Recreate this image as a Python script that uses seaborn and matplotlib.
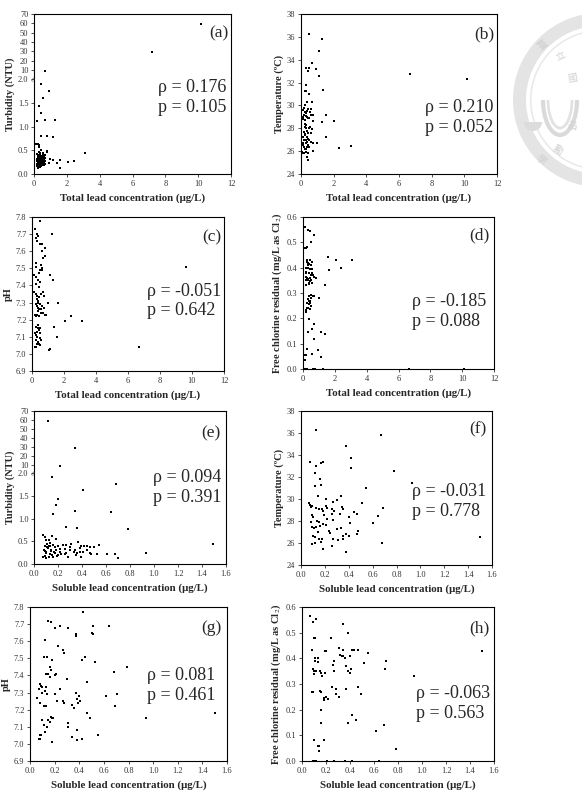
import numpy as np
import matplotlib
matplotlib.use("Agg")
import matplotlib.pyplot as plt
import seaborn as sns
from matplotlib.patches import Wedge, Arc

# ---- values ----
# (a) total lead (ug/L) vs turbidity (NTU)
a_pts = [(10.2, 59), (7.2, 29), (0.69, 9), (0.41, 1.90), (0.89, 1.76), (0.53, 1.61),
         (0.32, 1.43), (0.45, 1.28), (0.16, 1.11), (0.67, 1.15), (1.28, 1.14), (0.45, 0.80),
         (0.81, 0.80), (1.14, 0.78), (3.13, 0.45), (2.42, 0.27), (2.07, 0.26), (1.60, 0.13),
         (1.58, 0.30), (1.38, 0.23), (1.18, 0.29), (0.97, 0.32), (0.91, 0.23), (0.77, 0.49),
         (0.77, 0.46), (0.14, 0.63), (0.22, 0.63), (0.28, 0.62), (0.30, 0.58), (0.18, 0.42),
         (0.25, 0.41), (0.32, 0.40), (0.38, 0.42), (0.45, 0.38), (0.52, 0.44), (0.55, 0.37),
         (0.60, 0.36), (0.22, 0.35), (0.28, 0.33), (0.35, 0.32), (0.42, 0.30), (0.48, 0.29),
         (0.58, 0.31), (0.65, 0.28), (0.20, 0.28), (0.26, 0.26), (0.33, 0.25), (0.40, 0.24),
         (0.46, 0.22), (0.55, 0.21), (0.62, 0.24), (0.70, 0.22), (0.22, 0.20), (0.29, 0.19),
         (0.36, 0.18), (0.44, 0.17), (0.30, 0.15), (0.24, 0.13), (0.38, 0.14), (0.50, 0.19),
         (0.18, 0.22), (0.27, 0.30), (0.34, 0.37), (0.41, 0.34), (0.50, 0.33), (0.57, 0.27),
         (0.68, 0.40), (0.36, 0.45), (0.29, 0.47), (0.44, 0.50), (0.20, 0.16), (0.31, 0.21),
         (0.39, 0.27), (0.47, 0.25), (0.52, 0.23), (0.25, 0.38), (0.33, 0.29), (0.60, 0.19),
         (0.17, 0.32), (0.42, 0.20), (0.65, 0.33), (0.56, 0.41), (0.23, 0.24), (0.37, 0.21),
         (0.48, 0.36)]

# (b) total lead vs temperature (C)
b_pts = [(0.49, 36.27), (1.30, 35.78), (1.12, 34.79), (0.65, 33.70), (0.30, 33.27), (0.49, 33.27),
         (0.45, 32.98), (0.94, 33.18), (1.08, 32.60), (6.65, 32.78), (10.16, 32.28), (0.28, 31.78),
         (0.24, 31.29), (0.28, 31.23), (1.32, 31.38), (0.51, 31.03), (0.39, 30.33), (0.65, 30.33),
         (0.22, 30.00), (1.52, 29.19), (2.01, 28.64), (1.26, 28.52), (1.52, 27.27), (2.34, 26.30),
         (3.07, 26.48), (0.10, 29.63), (0.24, 29.45), (0.18, 29.16), (0.33, 29.31), (0.45, 29.69),
         (0.55, 29.45), (0.63, 29.16), (0.71, 29.16), (0.14, 29.01), (0.35, 29.01), (0.51, 28.87),
         (0.75, 28.66), (0.24, 28.14), (0.30, 27.99), (0.35, 27.79), (0.18, 27.70), (0.55, 28.14),
         (0.59, 27.62), (0.24, 27.41), (0.39, 27.27), (0.14, 27.21), (0.30, 26.97), (0.51, 26.97),
         (0.59, 26.83), (0.28, 26.68), (0.75, 26.68), (0.96, 26.68), (0.10, 26.68), (0.18, 26.39),
         (0.35, 26.39), (0.45, 26.54), (0.30, 26.16), (0.06, 25.95), (0.18, 25.87), (0.10, 25.81),
         (0.45, 25.81), (0.75, 26.01), (0.35, 25.52), (0.45, 25.25), (0.20, 29.80), (0.28, 29.10),
         (0.40, 28.90), (0.22, 28.40), (0.33, 28.30), (0.48, 28.00), (0.26, 27.50), (0.42, 27.60),
         (0.20, 27.00), (0.36, 26.80), (0.50, 26.40), (0.24, 26.20), (0.15, 28.80), (0.38, 29.50),
         (0.65, 27.90), (0.30, 25.90), (0.12, 26.50), (0.44, 27.10), (0.27, 28.70), (0.62, 29.70)]

# (c) total lead vs pH
c_pts = [(0.48, 7.777), (0.21, 7.73), (0.31, 7.70), (0.40, 7.69), (0.27, 7.68), (1.27, 7.70),
         (0.31, 7.66), (0.48, 7.64), (0.60, 7.64), (0.83, 7.62), (0.65, 7.60), (0.81, 7.57),
         (0.69, 7.56), (0.23, 7.53), (0.27, 7.51), (0.54, 7.52), (0.65, 7.50), (0.48, 7.49),
         (0.60, 7.49), (1.10, 7.46), (0.15, 7.46), (0.38, 7.43), (0.52, 7.42), (1.31, 7.43),
         (0.23, 7.41), (0.42, 7.39), (0.71, 7.36), (0.75, 7.34), (0.13, 7.36), (0.27, 7.35),
         (0.31, 7.34), (1.00, 7.30), (0.29, 7.32), (0.38, 7.30), (0.27, 7.29), (0.31, 7.28),
         (1.63, 7.30), (0.52, 7.29), (0.65, 7.28), (0.73, 7.27), (0.44, 7.26), (0.58, 7.26),
         (0.40, 7.25), (0.54, 7.24), (0.69, 7.24), (0.19, 7.23), (0.33, 7.23), (0.79, 7.23),
         (0.90, 7.23), (2.46, 7.22), (2.08, 7.19), (3.10, 7.19), (1.38, 7.16), (0.27, 7.16),
         (0.38, 7.15), (0.44, 7.14), (0.31, 7.13), (0.17, 7.12), (0.48, 7.12), (0.25, 7.11),
         (0.33, 7.10), (0.48, 7.09), (0.23, 7.08), (0.54, 7.08), (0.38, 7.07), (0.44, 7.06),
         (0.48, 7.05), (0.25, 7.04), (1.58, 7.10), (0.17, 7.04), (6.67, 7.04), (1.04, 7.02),
         (1.15, 7.03), (9.60, 7.51), (0.35, 7.31), (0.42, 7.33), (0.36, 7.27), (0.46, 7.22),
         (0.28, 7.22), (0.40, 7.17), (0.52, 7.15), (0.30, 7.06), (0.58, 7.35), (0.22, 7.45),
         (0.45, 7.47)]

# (d) total lead vs free chlorine residual (mg/L as Cl2)
d_pts = [(0.13, 0.561), (0.31, 0.550), (0.46, 0.543), (0.67, 0.530), (0.52, 0.500), (0.15, 0.479),
         (0.21, 0.479), (1.57, 0.441), (2.05, 0.432), (3.10, 0.432), (2.37, 0.400), (1.61, 0.390),
         (1.38, 0.330), (0.98, 0.280), (0.25, 0.423), (0.38, 0.416), (0.48, 0.410), (0.54, 0.423),
         (0.17, 0.400), (0.31, 0.400), (0.46, 0.394), (0.59, 0.396), (0.21, 0.381), (0.36, 0.377),
         (0.50, 0.373), (0.67, 0.362), (0.84, 0.360), (0.21, 0.364), (0.34, 0.354), (0.46, 0.347),
         (0.59, 0.341), (0.17, 0.331), (0.38, 0.337), (0.52, 0.291), (0.67, 0.289), (0.31, 0.276),
         (0.42, 0.268), (0.25, 0.259), (0.38, 0.255), (0.52, 0.249), (0.21, 0.232), (0.34, 0.239),
         (0.46, 0.236), (0.17, 0.226), (0.36, 0.197), (0.67, 0.178), (0.54, 0.157), (0.31, 0.147),
         (1.15, 0.147), (1.36, 0.137), (0.69, 0.117), (0.96, 0.075), (0.25, 0.079), (0.13, 0.055),
         (0.21, 0.055), (0.59, 0.058), (1.15, 0.046), (0.15, 0.035), (0.10, 0.0), (0.25, 0.0),
         (0.63, 0.0), (0.73, 0.0), (1.26, 0.0), (6.66, 0.0), (10.1, 0.0), (0.27, 0.43),
         (0.44, 0.43), (0.31, 0.41), (0.55, 0.38), (0.23, 0.36), (0.42, 0.36), (0.29, 0.35),
         (0.50, 0.35), (0.63, 0.37), (0.40, 0.27), (0.48, 0.28), (0.35, 0.29), (0.27, 0.24),
         (0.19, 0.38), (0.33, 0.42), (0.61, 0.29), (0.25, 0.48), (0.35, 0.34), (0.45, 0.26),
         (0.18, 0.35)]

# (e) soluble lead vs turbidity
e_pts = [(0.117, 59), (0.345, 29), (0.214, 9), (0.153, 1.93), (0.68, 1.77), (0.406, 1.63),
         (0.198, 1.43), (0.186, 1.30), (0.159, 1.10), (0.342, 1.16), (0.643, 1.14), (0.27, 0.81),
         (0.356, 0.79), (0.78, 0.78), (1.49, 0.44), (0.93, 0.25), (0.072, 0.634), (0.092, 0.597),
         (0.153, 0.612), (0.103, 0.537), (0.125, 0.522), (0.131, 0.463), (0.089, 0.403),
         (0.108, 0.373), (0.122, 0.388), (0.159, 0.425), (0.172, 0.373), (0.20, 0.388),
         (0.27, 0.425), (0.31, 0.448), (0.367, 0.478), (0.395, 0.388), (0.42, 0.388),
         (0.445, 0.388), (0.465, 0.373), (0.50, 0.366), (0.543, 0.425), (0.083, 0.313),
         (0.103, 0.276), (0.145, 0.284), (0.186, 0.313), (0.214, 0.276), (0.256, 0.328),
         (0.298, 0.299), (0.34, 0.299), (0.359, 0.239), (0.381, 0.261), (0.409, 0.276),
         (0.465, 0.239), (0.473, 0.216), (0.526, 0.216), (0.609, 0.224), (0.673, 0.224),
         (0.696, 0.127), (0.089, 0.187), (0.103, 0.127), (0.125, 0.149), (0.159, 0.164),
         (0.20, 0.201), (0.284, 0.164), (0.395, 0.164), (0.103, 0.239), (0.131, 0.224),
         (0.172, 0.239), (0.228, 0.224), (0.075, 0.164), (0.12, 0.35), (0.14, 0.30), (0.17, 0.26),
         (0.22, 0.34), (0.26, 0.21), (0.33, 0.26), (0.38, 0.35), (0.44, 0.30), (0.15, 0.20),
         (0.24, 0.41), (0.11, 0.45), (0.19, 0.17), (0.30, 0.37), (0.09, 0.29), (0.18, 0.55),
         (0.27, 0.25), (0.35, 0.20), (0.13, 0.40)]

# (f) soluble lead vs temperature
f_pts = [(0.129, 36.3), (0.674, 35.85), (0.375, 34.82), (0.417, 33.7), (0.417, 32.8), (0.078, 33.33),
         (0.123, 33.0), (0.165, 33.24), (0.187, 33.33), (0.78, 32.58), (0.115, 32.33), (0.157, 31.82),
         (0.165, 31.27), (0.118, 31.18), (0.548, 30.97), (0.93, 31.42), (0.145, 30.27), (0.338, 30.27),
         (0.207, 30.03), (0.512, 29.6), (0.27, 29.7), (0.69, 29.21), (0.064, 29.6), (0.076, 29.45),
         (0.09, 29.39), (0.084, 29.24), (0.126, 29.15), (0.154, 29.06), (0.173, 29.06), (0.187, 28.94),
         (0.21, 29.36), (0.215, 29.15), (0.263, 29.06), (0.28, 28.94), (0.341, 29.24), (0.355, 29.12),
         (0.447, 28.85), (0.467, 28.64), (0.257, 28.6), (0.40, 28.4), (0.09, 28.55), (0.104, 28.39),
         (0.643, 28.48), (0.131, 28.03), (0.151, 27.94), (0.27, 28.09), (0.411, 27.79), (0.607, 27.79),
         (0.187, 27.7), (0.21, 27.64), (0.09, 27.48), (0.109, 27.39), (0.126, 27.48), (0.16, 27.55),
         (0.30, 27.24), (0.333, 27.39), (0.235, 27.12), (0.481, 27.12), (0.467, 26.82), (0.355, 26.64),
         (0.375, 26.82), (0.405, 26.64), (0.104, 26.64), (0.117, 26.58), (0.151, 26.33), (0.179, 26.33),
         (0.165, 26.12), (0.27, 26.39), (0.313, 26.3), (0.355, 26.39), (0.09, 25.88), (0.117, 26.03),
         (0.263, 25.73), (0.187, 25.48), (0.677, 26.03), (1.50, 26.58), (0.378, 25.21), (0.22, 28.2),
         (0.30, 29.9), (0.14, 27.0), (0.24, 26.9), (0.33, 28.6), (0.08, 27.9), (0.19, 28.5)]

# (g) soluble lead vs pH
g_pts = [(0.43, 7.77), (0.15, 7.72), (0.17, 7.71), (0.20, 7.68), (0.24, 7.69), (0.31, 7.68),
         (0.51, 7.69), (0.64, 7.69), (0.50, 7.65), (0.51, 7.64), (0.37, 7.63), (0.37, 7.64),
         (0.12, 7.61), (0.23, 7.57), (0.27, 7.55), (0.28, 7.53), (0.11, 7.51), (0.14, 7.51),
         (0.18, 7.49), (0.45, 7.51), (0.42, 7.49), (0.53, 7.48), (0.79, 7.45), (0.16, 7.45),
         (0.17, 7.43), (0.13, 7.41), (0.15, 7.41), (0.20, 7.40), (0.21, 7.41), (0.16, 7.39),
         (0.68, 7.42), (0.30, 7.38), (0.46, 7.36), (0.08, 7.35), (0.09, 7.34), (0.10, 7.33),
         (0.13, 7.33), (0.07, 7.32), (0.12, 7.31), (0.10, 7.30), (0.24, 7.32), (0.14, 7.29),
         (0.20, 7.29), (0.37, 7.30), (0.40, 7.28), (0.62, 7.28), (0.71, 7.29), (0.06, 7.27),
         (0.08, 7.24), (0.38, 7.26), (0.41, 7.25), (0.27, 7.25), (0.28, 7.24), (0.22, 7.25),
         (0.11, 7.22), (0.13, 7.22), (0.34, 7.23), (0.36, 7.21), (0.39, 7.24), (0.69, 7.22),
         (0.46, 7.18), (0.49, 7.15), (0.94, 7.15), (1.50, 7.18), (0.17, 7.16), (0.18, 7.15),
         (0.15, 7.14), (0.16, 7.13), (0.19, 7.15), (0.10, 7.14), (0.11, 7.11), (0.14, 7.10),
         (0.12, 7.07), (0.31, 7.12), (0.31, 7.10), (0.38, 7.08), (0.08, 7.05), (0.09, 7.05),
         (0.07, 7.03), (0.08, 7.03), (0.55, 7.05), (0.34, 7.04), (0.42, 7.03), (0.38, 7.02),
         (0.18, 7.01)]

# (h) soluble lead vs free chlorine residual
h_pts = [(0.07, 0.563), (0.12, 0.553), (0.09, 0.541), (0.34, 0.533), (0.38, 0.50), (0.10, 0.481),
         (0.11, 0.481), (0.24, 0.481), (0.08, 0.432), (0.31, 0.442), (0.34, 0.432), (0.42, 0.432),
         (0.43, 0.432), (0.47, 0.432), (0.55, 0.42), (1.50, 0.43), (0.32, 0.412), (0.34, 0.409),
         (0.40, 0.41), (0.36, 0.403), (0.11, 0.40), (0.11, 0.39), (0.13, 0.40), (0.13, 0.387),
         (0.27, 0.39), (0.37, 0.372), (0.41, 0.36), (0.52, 0.38), (0.70, 0.39), (0.69, 0.36),
         (0.26, 0.374), (0.27, 0.35), (0.09, 0.36), (0.10, 0.35), (0.10, 0.34), (0.15, 0.35),
         (0.16, 0.342), (0.17, 0.33), (0.19, 0.342), (0.40, 0.342), (0.38, 0.35), (0.93, 0.331),
         (0.08, 0.27), (0.09, 0.27), (0.15, 0.272), (0.16, 0.27), (0.28, 0.28), (0.37, 0.28),
         (0.47, 0.289), (0.49, 0.26), (0.28, 0.26), (0.31, 0.248), (0.18, 0.246), (0.18, 0.237),
         (0.20, 0.25), (0.22, 0.24), (0.16, 0.20), (0.42, 0.18), (0.45, 0.16), (0.16, 0.15),
         (0.38, 0.15), (0.62, 0.117), (0.68, 0.14), (0.10, 0.081), (0.18, 0.081), (0.13, 0.059),
         (0.14, 0.059), (0.14, 0.039), (0.78, 0.048), (0.09, 0.0), (0.11, 0.0), (0.12, 0.0),
         (0.21, 0.0), (0.27, 0.0), (0.36, 0.0), (0.42, 0.0), (0.64, 0.0), (0.20, 0.43),
         (0.19, 0.43), (0.33, 0.41), (0.25, 0.29), (0.12, 0.35)]

panel_letters = ["(a)", "(b)", "(c)", "(d)", "(e)", "(f)", "(g)", "(h)"]
rho_text = ["0.176", "0.210", "-0.051", "-0.185", "0.094", "-0.031", "0.081", "-0.063"]
p_text = ["0.105", "0.052", "0.642", "0.088", "0.391", "0.778", "0.461", "0.563"]

total_ticks = [0, 2, 4, 6, 8, 10, 12]
soluble_ticks = [0.0, 0.2, 0.4, 0.6, 0.8, 1.0, 1.2, 1.4, 1.6]
turb_ticks = [0.0, 0.5, 1.0, 1.5, 2.0, 10, 20, 30, 40, 50, 60, 70]
temp_ticks = [24, 26, 28, 30, 32, 34, 36, 38]
ph_ticks = [6.9, 7.0, 7.1, 7.2, 7.3, 7.4, 7.5, 7.6, 7.7, 7.8]
cl_ticks = [0.0, 0.1, 0.2, 0.3, 0.4, 0.5, 0.6]

# ---- broken turbidity axis: 0-2 linear, then 10-70 compressed ----
UP = 0.0197
GAP = 10 * UP


def turb_fwd(y):
    y = np.asarray(y, dtype=float)
    return np.where(y <= 2, y, np.where(y <= 10, 2 + (y - 2) * GAP / 8, 2 + y * UP))


def turb_inv(t):
    t = np.asarray(t, dtype=float)
    return np.where(t <= 2, t, np.where(t <= 2 + GAP, 2 + (t - 2) * 8 / GAP, (t - 2) / UP))


sns.set_style("ticks")
plt.rcParams["font.family"] = ["Liberation Serif", "DejaVu Serif"]
plt.rcParams["mathtext.fontset"] = "stix"

W, H = 582, 793
fig = plt.figure(figsize=(W / 100, H / 100), dpi=100)


def box(x0, y0, x1, y1):
    return [x0 / W, 1 - y1 / H, (x1 - x0) / W, (y1 - y0) / H]


xlab_total = "Total lead concentration (\u03bcg/L)"
xlab_sol = "Soluble lead concentration (\u03bcg/L)"
ylabels = {"turb": "Turbidity (NTU)", "temp": "Temperature (\u00baC)", "ph": "pH",
           "cl": "Free chlorine residual (mg/L as Cl$_2$)"}

panels = [
    (a_pts, box(34, 14, 231, 174), "total", "turb", (158, 88, 107), (229, 33)),
    (b_pts, box(301, 14, 497, 174), "total", "temp", (425, 107, 128), (494, 34)),
    (c_pts, box(32, 217, 224, 371), "total", "ph", (147, 291, 311), (221, 237)),
    (d_pts, box(303, 217, 494, 369), "total", "cl", (412, 301, 322), (490, 235)),
    (e_pts, box(34, 411, 226, 564), "sol", "turb", (153, 477, 497), (220, 433)),
    (f_pts, box(301, 411, 492, 565), "sol", "temp", (412, 491, 512), (487, 429)),
    (g_pts, box(30, 607, 227, 761), "sol", "ph", (147, 675, 696), (222, 628)),
    (h_pts, box(302, 607, 494, 761), "sol", "cl", (416, 693, 714), (490, 628)),
]

for i, (pts, rect, xk, yk, rho_pos, lab_pos) in enumerate(panels):
    ax = fig.add_axes(rect)
    xs = np.array([p[0] for p in pts])
    ys = np.array([p[1] for p in pts])
    if yk == "turb":
        ax.set_yscale("function", functions=(turb_fwd, turb_inv))
    sns.scatterplot(x=xs, y=ys, ax=ax, color="black", s=3, marker="s", linewidth=0)

    if xk == "total":
        ax.set_xlim(0, 12)
        ax.set_xticks(total_ticks)
        ax.set_xticklabels([str(t) for t in total_ticks])
        ax.set_xlabel(xlab_total, fontsize=7.8, fontweight="bold", labelpad=4)
    else:
        ax.set_xlim(0, 1.6)
        ax.set_xticks(soluble_ticks)
        ax.set_xticklabels([f"{t:.1f}" for t in soluble_ticks])
        ax.set_xlabel(xlab_sol, fontsize=7.8, fontweight="bold", labelpad=4)

    if yk == "turb":
        ax.set_ylim(0, 70)
        ax.set_yticks(turb_ticks)
        ax.set_yticklabels([f"{t:.1f}" if t <= 2 else str(int(t)) for t in turb_ticks])
        ax.text(0.0, turb_fwd(6.0), "\u2248", transform=ax.get_yaxis_transform(),
                fontsize=6, ha="center", va="center", rotation=60, color="#333333")
    elif yk == "temp":
        ax.set_ylim(24, 38)
        ax.set_yticks(temp_ticks)
        ax.set_yticklabels([str(t) for t in temp_ticks])
    elif yk == "ph":
        ax.set_ylim(6.9, 7.8)
        ax.set_yticks(ph_ticks)
        ax.set_yticklabels([f"{t:.1f}" for t in ph_ticks])
    else:
        ax.set_ylim(0, 0.6)
        ax.set_yticks(cl_ticks)
        ax.set_yticklabels([f"{t:.1f}" for t in cl_ticks])
    ax.set_ylabel(ylabels[yk], fontsize=7.5, fontweight="bold", labelpad=2)

    ax.tick_params(direction="out", length=2.5, width=0.6, labelsize=6, pad=1.5,
                   colors="#333333", top=False, right=False)
    for sp in ax.spines.values():
        sp.set_visible(True)
        sp.set_linewidth(0.8)
        sp.set_color("black")

    x0, ry, py = rho_pos
    fig.text(x0 / W, 1 - ry / H, f"\u03c1 = {rho_text[i]}", fontsize=13, ha="left", va="center")
    fig.text(x0 / W, 1 - py / H, f"p = {p_text[i]}", fontsize=13, ha="left", va="center")
    lx, ly = lab_pos
    fig.text(lx / W, 1 - ly / H, panel_letters[i], fontsize=12.5, ha="right", va="center")

# faint university seal watermark in the top-right corner
seal_ax = fig.add_axes([0, 0, 1, 1], zorder=-5)
seal_ax.set_xlim(0, W)
seal_ax.set_ylim(H, 0)
seal_ax.axis("off")
seal_ax.add_patch(Wedge((600, 100), 87, 0, 360, width=13, facecolor="#e4e4e4", edgecolor="none"))
seal_ax.add_patch(Wedge((600, 100), 70, 0, 360, width=1.5, facecolor="#e8e8e8", edgecolor="none"))
seal_ax.add_patch(Arc((560, 100), 34, 70, theta1=0, theta2=180, color="#dadada", lw=3))
seal_ax.add_patch(Arc((560, 100), 24, 56, theta1=0, theta2=180, color="#e2e2e2", lw=2))
seal_ax.add_patch(Wedge((533, 122), 9, 0, 180, facecolor="#dcdcdc", edgecolor="none"))
seal_chars = ["\u81fa", "\u7acb", "\u570b", "\u54c1", "\u52f5", "\u5b78"]
seal_pos = [(543, 45, 40), (561, 56, 25), (572, 78, 10), (572, 126, -10), (558, 150, -30), (541, 160, -45)]
for ch, (tx, ty, rot) in zip(seal_chars, seal_pos):
    seal_ax.text(tx, ty, ch, fontsize=7, color="#d0d0d0", ha="center", va="center",
                 rotation=rot, family=["Noto Sans CJK TC", "DejaVu Sans"])

fig.savefig("out.png", dpi=100)
